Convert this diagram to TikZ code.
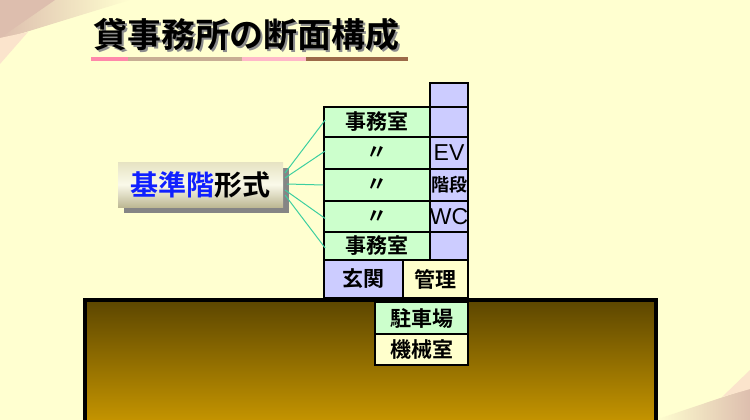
\documentclass[tikz,border=0pt]{standalone}
\usepackage{fontspec}
\newfontfamily\jp{Noto Sans CJK JP}[BoldFont={Noto Sans CJK JP Bold}]
\newfontfamily\lat{Liberation Sans}
\usetikzlibrary{calc}
\definecolor{bg}{HTML}{FFFFD0}
\definecolor{green1}{HTML}{CCFFCC}
\definecolor{lilac}{HTML}{CCCCFF}
\definecolor{cream}{HTML}{FFFFCC}
\definecolor{conn}{HTML}{3CCFA0}
\definecolor{grtop}{HTML}{5C4600}
\definecolor{grbot}{HTML}{CC9A00}
\definecolor{cornerA}{HTML}{DDBEAE}
\definecolor{peach}{HTML}{FBE4CC}
\definecolor{barA}{HTML}{FF88AA}
\definecolor{barB}{HTML}{C8AE94}
\definecolor{barC}{HTML}{FFB8C8}
\definecolor{barD}{HTML}{9C6A48}
\definecolor{boxtop}{HTML}{E6E3C2}
\definecolor{boxmid}{HTML}{FAF9EA}
\definecolor{boxbot}{HTML}{BDB894}
\definecolor{stdblue}{HTML}{1020FF}
\tikzset{
  room/.style={draw=black, line width=1.6pt, inner sep=0pt, font=\jp\bfseries\fontsize{21}{21}\selectfont},
  roomL/.style={room, fill=green1, minimum width=106pt},
  roomR/.style={room, fill=lilac, minimum width=38pt},
  latin/.style={font=\lat\fontsize{23}{23}\selectfont},
  link/.style={draw=conn, line width=1pt},
  ttl/.style={font=\jp\bfseries\fontsize{34}{34}\selectfont},
}
\newcommand{\ttltext}{貸事務所の断面構成}
\begin{document}
\begin{tikzpicture}[x=1pt,y=-1pt]
\useasboundingbox (0,0) rectangle (750,420);
\fill[bg] (0,0) rectangle (750,420);
% corner decorations
\shade[left color=cornerA, right color=bg] (0,0) -- (130,0) -- (0,40) -- cycle;
\fill[cornerA] (0,0) -- (55,0) -- (0,38) -- cycle;
\fill[peach] (0,38) -- (28,32) -- (0,64) -- cycle;
\shade[left color=bg, right color=cornerA] (655,420) -- (750,388) -- (750,420) -- cycle;
\fill[peach] (750,370) -- (722,397) -- (750,389) -- cycle;
% title with drop shadow
\node (title) [text=black, ttl] at (246,36)
  {\makebox[0pt][l]{\hspace{2pt}\raisebox{-2pt}{\textcolor{black!45}{\ttltext}}}\ttltext};
\fill[barA] (91,57) rectangle (128,61);
\fill[barB] (128,57) rectangle (242,61);
\fill[barC] (242,57) rectangle (306,61);
\fill[barD] (306,57) rectangle (408,61);
% ground
\shade[top color=grtop, bottom color=grbot] (85,300) rectangle (656,430);
\draw[line width=4pt] (85,430) -- (85,300) -- (656,300) -- (656,430);
% label box
\fill[black!48] (124,168) rectangle (289,213);
\node (std) [minimum width=165pt, minimum height=45pt, inner sep=0pt,
  top color=boxtop, bottom color=boxbot, middle color=boxmid,
  font=\jp\bfseries\fontsize{28}{28}\selectfont] at (200.5,184.5)
  {\textcolor{stdblue}{基準階}形式};
% building
\node (r1) [roomL, minimum height=30pt] at (377,122) {事務室};
\node (r2) [roomL, minimum height=32pt] at (377,153) {〃};
\node (r3) [roomL, minimum height=32pt] at (377,185) {〃};
\node (r4) [roomL, minimum height=31pt] at (377,216.5) {〃};
\node (r5) [roomL, minimum height=28pt] at (377,246) {事務室};
\node (c0) [roomR, minimum height=24pt] at (449,95) {};
\node (c1) [roomR, minimum height=30pt] at (449,122) {};
\node (c2) [roomR, minimum height=32pt, latin] at (449,153) {EV};
\node (c3) [roomR, minimum height=32pt, font=\jp\bfseries\fontsize{18}{18}\selectfont] at (449,185) {階段};
\node (c4) [roomR, minimum height=31pt, latin] at (449,216.5) {WC};
\node (c5) [roomR, minimum height=28pt] at (449,246) {};
\node (gk) [room, fill=lilac, minimum width=79pt, minimum height=38pt] at (363.5,279) {玄関};
\node (kr) [room, fill=cream, minimum width=65pt, minimum height=38pt] at (435.5,279) {管理};
\node (pk) [room, fill=green1, minimum width=93pt, minimum height=32pt] at (421.5,318) {駐車場};
\node (mr) [room, fill=cream, minimum width=93pt, minimum height=31pt] at (421.5,349.5) {機械室};
% connectors
\coordinate (s1) at (285,173);
\coordinate (s2) at (285,178);
\coordinate (s3) at (287,184);
\coordinate (s4) at (285,190);
\coordinate (s5) at (285,195);
\draw[link] (s1) -- ($(r1.west)+(2,-2)$);
\draw[link] (s2) -- ($(r2.west)+(2,-2)$);
\draw[link] (s3) -- (r3.west);
\draw[link] (s4) -- ($(r4.west)+(2,2)$);
\draw[link] (s5) -- ($(r5.west)+(2,2)$);
\end{tikzpicture}
\end{document}
